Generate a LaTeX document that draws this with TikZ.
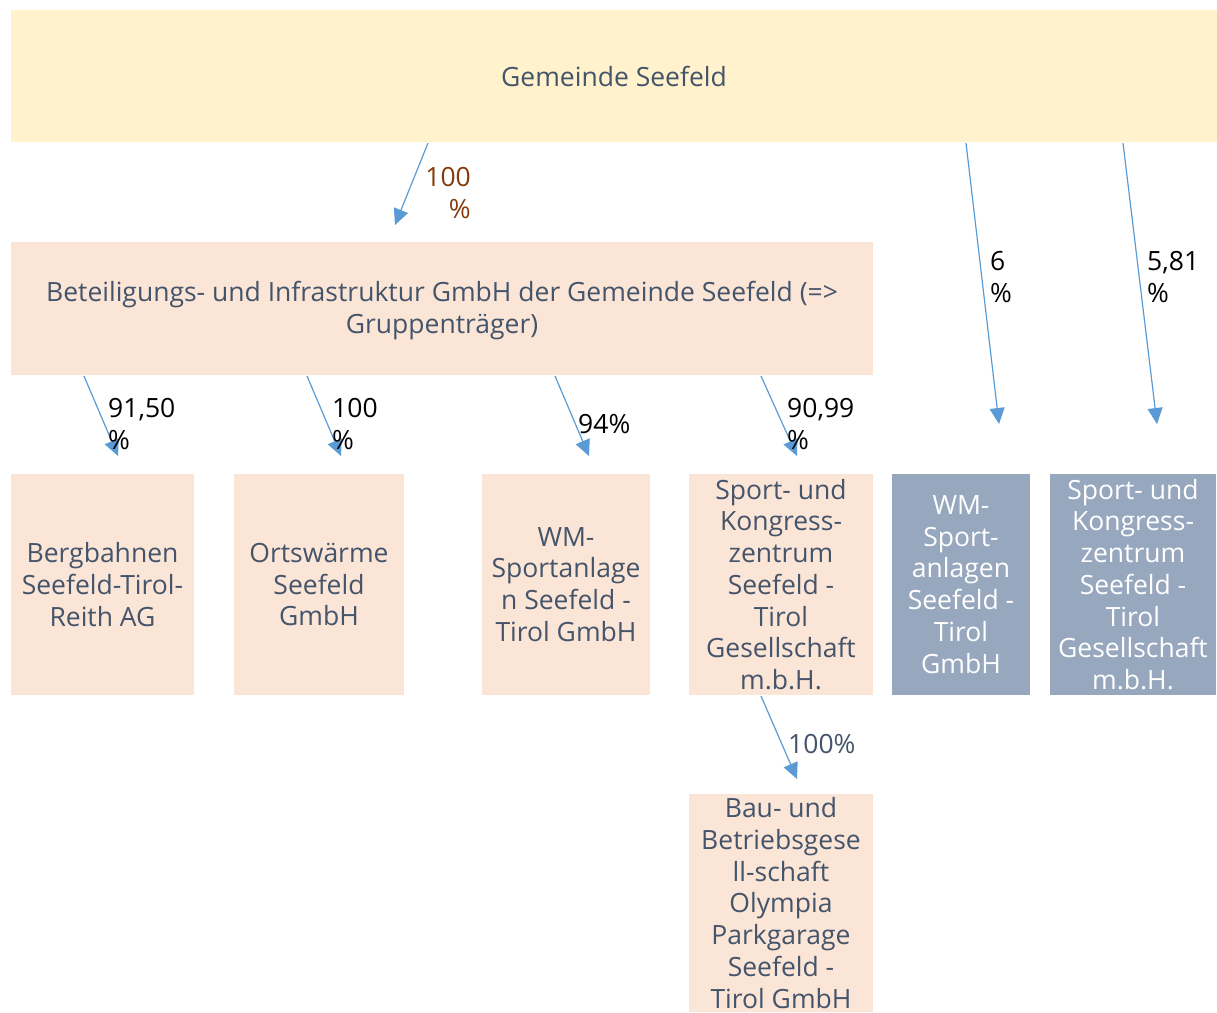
\documentclass[tikz,border=0pt]{standalone}
\usepackage{fontspec}
\setmainfont{Open Sans}
\usetikzlibrary{arrows.meta}
\definecolor{ybox}{HTML}{FFF2CC}
\definecolor{pbox}{HTML}{FBE5D6}
\definecolor{gbox}{HTML}{97A7BE}
\definecolor{txt}{HTML}{44546A}
\definecolor{arr}{HTML}{5B9BD5}
\definecolor{brn}{HTML}{843C0C}
\begin{document}
\begin{tikzpicture}[x=1pt,y=-1pt,
  box/.style={inner sep=0pt, outer sep=0pt, align=center,
    font=\fontsize{26.5}{31.7}\selectfont, text=txt},
  pbx/.style={box, fill=pbox},
  gbx/.style={box, fill=gbox, text=white},
  conn/.style={draw=arr, line width=1.2pt, -{Triangle[length=16pt,width=15pt]}},
  lbl/.style={inner sep=0pt, font=\fontsize{26.5}{31.7}\selectfont, text=black}]
\useasboundingbox (0,0) rectangle (1217,1012);

% boxes
\node[box, fill=ybox, minimum width=1206pt, minimum height=132pt] (top) at (614,76) {Gemeinde Seefeld};
\node[pbx, minimum width=862pt, minimum height=133pt, text depth=2pt] (bet) at (442,308.5)
  {Beteiligungs- und Infrastruktur GmbH der Gemeinde Seefeld (=>\\Gruppenträger)};
\node[pbx, minimum width=183pt, minimum height=221pt] (berg) at (102.5,584.5) {Bergbahnen\\Seefeld-Tirol-\\Reith AG};
\node[pbx, minimum width=170pt, minimum height=221pt] (orts) at (319,584.5) {Ortswärme\\Seefeld\\GmbH};
\node[pbx, minimum width=168pt, minimum height=221pt] (wm) at (566,584.5) {WM-\\Sportanlage\\n Seefeld -\\Tirol GmbH};
\node[pbx, minimum width=184pt, minimum height=221pt] (skz) at (781,584.5) {Sport- und\\Kongress-\\zentrum\\Seefeld -\\Tirol\\Gesellschaft\\m.b.H.};
\node[gbx, minimum width=138pt, minimum height=221pt] (wmg) at (961,584.5) {WM-\\Sport-\\anlagen\\Seefeld -\\Tirol\\GmbH};
\node[gbx, minimum width=166pt, minimum height=221pt] (skzg) at (1133,584.5) {Sport- und\\Kongress-\\zentrum\\Seefeld -\\Tirol\\Gesellschaft\\m.b.H.};
\node[pbx, minimum width=184pt, minimum height=218pt] (bau) at (781,903) {Bau- und\\Betriebsgese\\ll-schaft\\Olympia\\Parkgarage\\Seefeld -\\Tirol GmbH};

% connector ends
\coordinate (s1) at (428,143);  \coordinate (e1) at (395,225);
\coordinate (s2) at (84,376);   \coordinate (e2) at (118,456);
\coordinate (s3) at (307,376);  \coordinate (e3) at (341,456);
\coordinate (s4) at (555,376);  \coordinate (e4) at (589,456);
\coordinate (s5) at (761,376);  \coordinate (e5) at (797,456);
\coordinate (s6) at (966,143);  \coordinate (e6) at (999,424);
\coordinate (s7) at (1123,143); \coordinate (e7) at (1157,424);
\coordinate (s8) at (761,696);  \coordinate (e8) at (797,779);

\draw[conn] (s1) -- (e1);
\draw[conn] (s2) -- (e2);
\draw[conn] (s3) -- (e3);
\draw[conn] (s4) -- (e4);
\draw[conn] (s5) -- (e5);
\draw[conn] (s6) -- (e6);
\draw[conn] (s7) -- (e7);
\draw[conn] (s8) -- (e8);

% labels
\node[lbl, text=brn, align=right, anchor=north east] (l1) at (471,167) {100\\\%};
\node[lbl, align=left, anchor=north west] (l2) at (108,398) {91,50\\\%};
\node[lbl, align=left, anchor=north west] (l3) at (332,398) {100\\\%};
\node[lbl, align=left, anchor=north west] (l4) at (578,414) {94\%};
\node[lbl, align=left, anchor=north west] (l5) at (787,398) {90,99\\\%};
\node[lbl, align=left, anchor=north west] (l6) at (990,251) {6\\\%};
\node[lbl, align=left, anchor=north west] (l7) at (1147,251) {5,81\\\%};
\node[lbl, text=txt, align=left, anchor=north west] (l8) at (788,734) {100\%};
\end{tikzpicture}
\end{document}
